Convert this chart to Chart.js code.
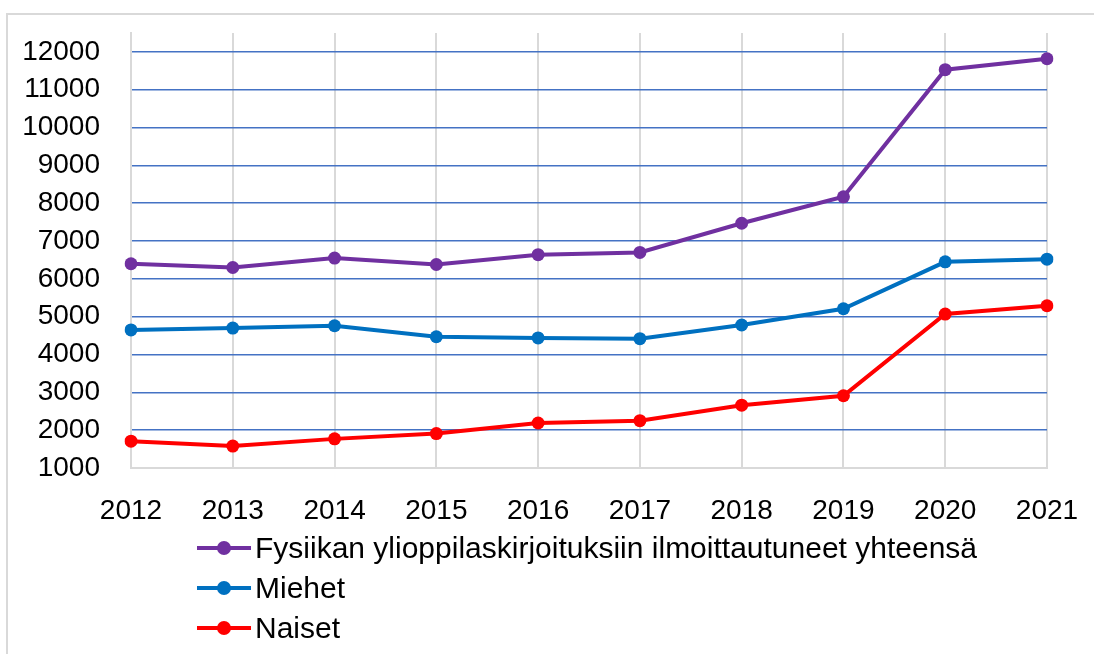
<!DOCTYPE html>
<html lang="fi">
<head>
<meta charset="UTF-8">
<title>Fysiikan ylioppilaskirjoitukset</title>
<script src="https://cdn.jsdelivr.net/npm/chart.js"></script>
<style>
  body { margin: 0; background: #fff; font-family: 'Liberation Sans', Arial, sans-serif; }
  .frame { position: absolute; left: 6px; top: 13px; width: 1200px; height: 700px;
           border-top: 2px solid #d9d9d9; border-left: 2px solid #d9d9d9; }
  .chart-container { position: absolute; left: 0; top: 0; width: 1094px; height: 530px; }
  #legend { position: absolute; left: 197px; top: 528px; }
  .item { display: flex; align-items: center; height: 40px; font-size: 30px; color: #000; }
  .mark { position: relative; width: 54px; height: 14px; margin-right: 4px; }
  .mark .ln { position: absolute; left: 0; top: 5px; width: 54px; height: 4px; }
  .mark .dot { position: absolute; left: 20px; top: 0; width: 14px; height: 14px; border-radius: 50%; }
</style>
</head>
<body>
<div class="frame"></div>
<div class="chart-container">
  <canvas id="chart"></canvas>
</div>
<div id="legend"></div>

<script>
  // vuodet ja ilmoittautuneet (luettu kuvasta)
  const years = ['2012', '2013', '2014', '2015', '2016', '2017', '2018', '2019', '2020', '2021'];
  const yhteensa = [6400, 6300, 6550, 6380, 6640, 6700, 7470, 8170, 11530, 11820];
  const miehet = [4650, 4700, 4760, 4470, 4440, 4420, 4780, 5210, 6450, 6520];
  const naiset = [1710, 1580, 1770, 1910, 2190, 2250, 2660, 2910, 5070, 5290];

  const seriesNames = ['Fysiikan ylioppilaskirjoituksiin ilmoittautuneet yhteensä', 'Miehet', 'Naiset'];
  const seriesColors = ['#7030a0', '#0070c0', '#ff0000'];

  // y-akselin asteikko
  const yTicks = [1000, 2000, 3000, 4000, 5000, 6000, 7000, 8000, 9000, 10000, 11000, 12000];
  const yMin = 1000;
  const yMax = 12500;

  const font = { family: "'Liberation Sans', Arial, sans-serif", size: 28 };

  function line(label, data, color) {
    return {
      label: label,
      data: data,
      borderColor: color,
      backgroundColor: color,
      borderWidth: 4,
      pointRadius: 6.5,
      pointBorderWidth: 0,
      pointBackgroundColor: color,
      tension: 0
    };
  }

  const chart = new Chart(document.getElementById('chart'), {
    type: 'line',
    data: {
      labels: years,
      datasets: [
        line(seriesNames[0], yhteensa, seriesColors[0]),
        line(seriesNames[1], miehet, seriesColors[1]),
        line(seriesNames[2], naiset, seriesColors[2])
      ]
    },
    options: {
      responsive: true,
      maintainAspectRatio: false,
      animation: false,
      layout: { padding: { left: 0, top: 33, right: 47, bottom: 0 } },
      plugins: { legend: { display: false }, tooltip: { enabled: false } },
      scales: {
        x: {
          offset: false,
          grid: { color: '#d9d9d9', lineWidth: 2, drawTicks: false },
          border: { color: '#d9d9d9', width: 2 },
          ticks: { color: '#000', font: font, padding: 26, maxRotation: 0 },
          afterFit: s => { s.height = 62; s.paddingLeft = 0; s.paddingRight = 0; }
        },
        y: {
          min: yMin,
          max: yMax,
          grid: {
            color: c => c.tick && c.tick.value === yMin ? '#d9d9d9' : '#4472c4',
            lineWidth: 1.5,
            drawTicks: false
          },
          border: { color: '#d9d9d9', width: 2 },
          ticks: {
            color: '#000',
            font: font,
            padding: 31,
            callback: v => String(v)
          },
          afterBuildTicks: s => { s.ticks = yTicks.map(v => ({ value: v })); },
          afterFit: s => { s.width = 131; s.paddingTop = 0; s.paddingBottom = 0; }
        }
      }
    }
  });

  // selite kaavion alle
  const legend = document.getElementById('legend');
  chart.data.datasets.forEach(ds => {
    const item = document.createElement('div');
    item.className = 'item';
    item.innerHTML = '<div class="mark"><div class="ln" style="background:' + ds.borderColor +
      '"></div><div class="dot" style="background:' + ds.borderColor + '"></div></div><span>' + ds.label + '</span>';
    legend.appendChild(item);
  });
</script>
</body>
</html>
